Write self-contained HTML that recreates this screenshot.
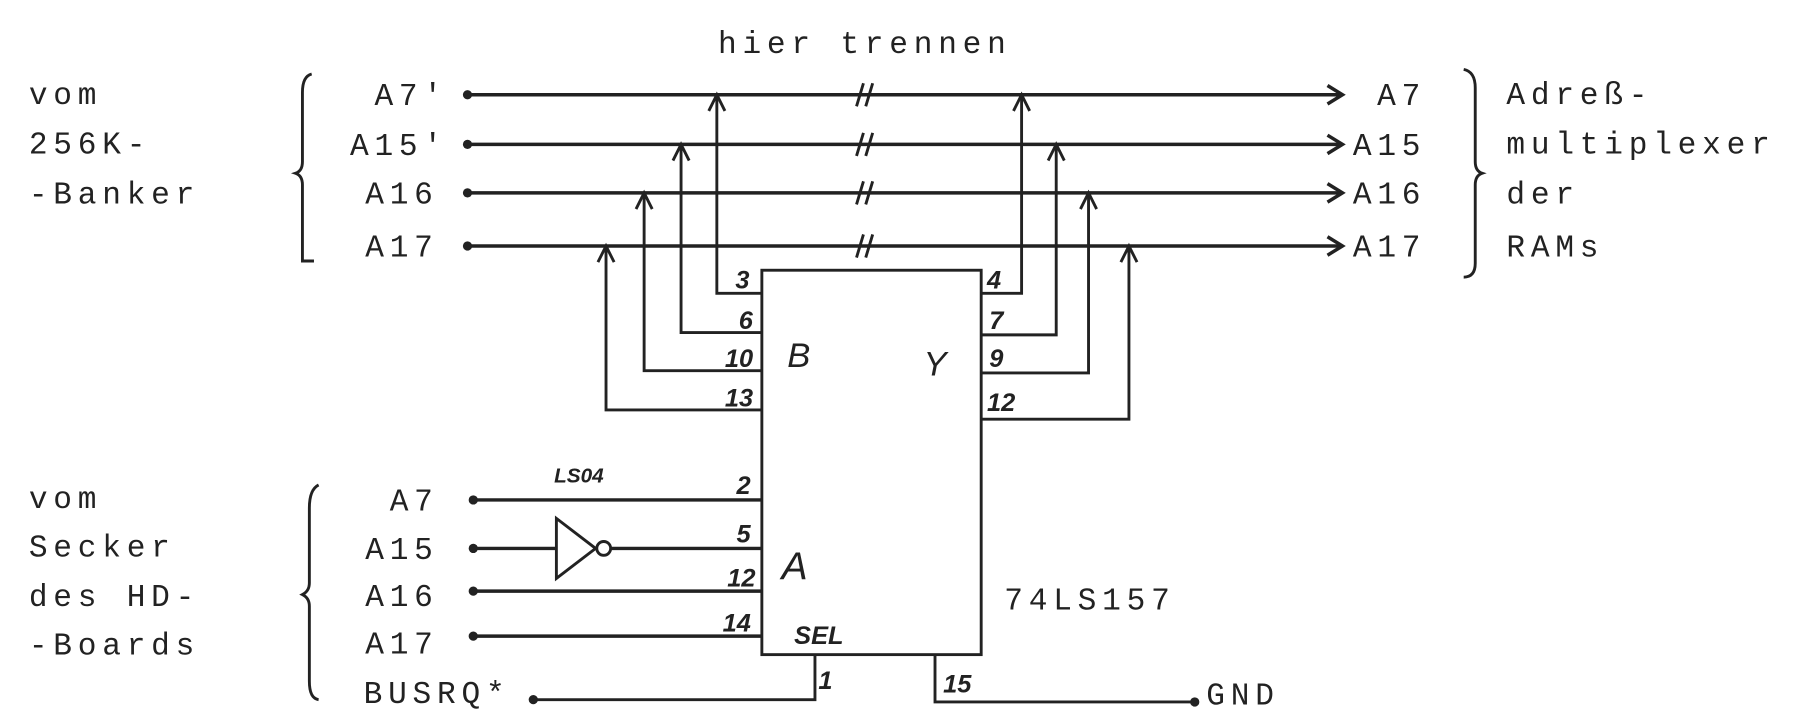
<!DOCTYPE html>
<html><head><meta charset="utf-8"><style>
html,body{margin:0;padding:0;background:#fff;}
svg{display:block;}
.t{font-family:"Liberation Mono",monospace;font-size:27px;fill:#222;letter-spacing:5px;}
.h{font-family:"Liberation Sans",sans-serif;font-style:italic;font-weight:bold;fill:#222;}
</style></head><body>
<svg width="1810" height="724" viewBox="0 0 1568 627" xmlns="http://www.w3.org/2000/svg">
<defs><marker id="ar" markerWidth="12" markerHeight="12" refX="10" refY="5" orient="auto" markerUnits="userSpaceOnUse"><path d="M0,0 L10,5 L0,10" fill="none" stroke="#222" stroke-width="2.5"/></marker></defs>
<g stroke="#222" stroke-width="3" fill="none">
<!-- bus lines -->
<line x1="405" y1="82" x2="1163" y2="82"/>
<line x1="405" y1="125" x2="1163" y2="125"/>
<line x1="405" y1="167" x2="1163" y2="167"/>
<line x1="405" y1="213" x2="1163" y2="213"/>
<path d="M1150,74 L1163,82 L1150,90 M1150,117 L1163,125 L1150,133 M1150,159 L1163,167 L1150,175 M1150,205 L1163,213 L1150,221"/>
<!-- break marks -->
<path d="M742,92 L748,72 M750,92 L756,72 M742,135 L748,115 M750,135 L756,115 M742,177 L748,157 M750,177 L756,157 M742,223 L748,203 M750,223 L756,203" stroke-width="2.5"/>
<!-- chip -->
<rect x="660" y="234" width="190" height="333" stroke-width="2.5"/>
<!-- B side -->
<path d="M660,254 L621,254 L621,82 M660,288 L590,288 L590,125 M660,321 L558,321 L558,167 M660,355 L525,355 L525,213" stroke-width="2.5"/>
<path d="M614,96 L621,82 L628,96 M583,139 L590,125 L597,139 M551,181 L558,167 L565,181 M518,227 L525,213 L532,227" stroke-width="2.5"/>
<!-- Y side -->
<path d="M850,254 L885,254 L885,82 M850,290 L915,290 L915,125 M850,323 L943,323 L943,167 M850,363 L978,363 L978,213" stroke-width="2.5"/>
<path d="M878,96 L885,82 L892,96 M908,139 L915,125 L922,139 M936,181 L943,167 L950,181 M971,227 L978,213 L985,227" stroke-width="2.5"/>
<!-- A inputs -->
<line x1="410" y1="433" x2="660" y2="433"/>
<line x1="410" y1="475" x2="482" y2="475"/>
<line x1="529" y1="475" x2="660" y2="475"/>
<path d="M482,449 L482,501 L516,475 Z" stroke-width="2.5"/>
<circle cx="523" cy="475" r="6" stroke-width="2.5"/>
<line x1="410" y1="512" x2="660" y2="512"/>
<line x1="410" y1="551" x2="660" y2="551"/>
<path d="M706,567 L706,606 L462,606" stroke-width="2.5"/>
<path d="M810,567 L810,608 L1035,608" stroke-width="2.5"/>
<!-- braces -->
<path d="M270,64 Q262,66 262,80 L262,140 Q262,148 256,150 Q262,152 262,160 L262,226 L272,226" stroke-width="2.5"/>
<path d="M1268,60 Q1278,62 1278,76 L1278,140 Q1278,148 1284,150 Q1278,152 1278,160 L1278,228 Q1278,240 1268,240" stroke-width="2.5"/>
<path d="M276,420 Q268,424 268,440 L268,505 Q268,512 262,515 Q268,518 268,525 L268,590 Q268,605 276,606" stroke-width="2.5"/>
</g>
<g fill="#222">
<circle cx="405" cy="82" r="4"/><circle cx="405" cy="125" r="4"/><circle cx="405" cy="167" r="4"/><circle cx="405" cy="213" r="4"/>
<circle cx="410" cy="433" r="4"/><circle cx="410" cy="475" r="4"/><circle cx="410" cy="512" r="4"/><circle cx="410" cy="551" r="4"/>
<circle cx="462" cy="606" r="4"/><circle cx="1035" cy="608" r="4"/>
</g>
<g class="t">
<text x="622" y="46">hier trennen</text>
<text x="25" y="90">vom</text>
<text x="25" y="133">256K-</text>
<text x="25" y="176">-Banker</text>
<text x="388" y="91" text-anchor="end">A7′</text>
<text x="388" y="134" text-anchor="end">A15′</text>
<text x="380" y="176" text-anchor="end">A16</text>
<text x="380" y="222" text-anchor="end">A17</text>
<text x="1193" y="91">A7</text>
<text x="1172" y="134">A15</text>
<text x="1172" y="176">A16</text>
<text x="1172" y="222">A17</text>
<text x="1305" y="90">Adreß-</text>
<text x="1305" y="133">multiplexer</text>
<text x="1305" y="176">der</text>
<text x="1305" y="222">RAMs</text>
<text x="25" y="440">vom</text>
<text x="25" y="482">Secker</text>
<text x="25" y="525">des HD-</text>
<text x="25" y="567">-Boards</text>
<text x="380" y="442" text-anchor="end">A7</text>
<text x="380" y="484" text-anchor="end">A15</text>
<text x="380" y="525" text-anchor="end">A16</text>
<text x="380" y="566" text-anchor="end">A17</text>
<text x="315" y="609">BUSRQ*</text>
<text x="870" y="528">74LS157</text>
<text x="1045" y="610">GND</text>
</g>
<g class="h" font-size="22">
<text x="637" y="250">3</text><text x="640" y="285">6</text><text x="628" y="318">10</text><text x="628" y="352">13</text>
<text x="855" y="250">4</text><text x="857" y="285">7</text><text x="857" y="318">9</text><text x="855" y="356">12</text>
<text x="638" y="428">2</text><text x="638" y="470">5</text><text x="630" y="508">12</text><text x="626" y="547">14</text>
<text x="709" y="597">1</text><text x="817" y="600">15</text>
<text x="688" y="558" font-size="22">SEL</text>
<text x="480" y="418" font-size="18">LS04</text>
<text x="682" y="318" font-size="30" font-weight="normal">B</text>
<text x="800" y="325" font-size="30" font-weight="normal">Y</text>
<text x="677" y="502" font-size="34" font-weight="normal">A</text>
</g>
</svg>
</body></html>
